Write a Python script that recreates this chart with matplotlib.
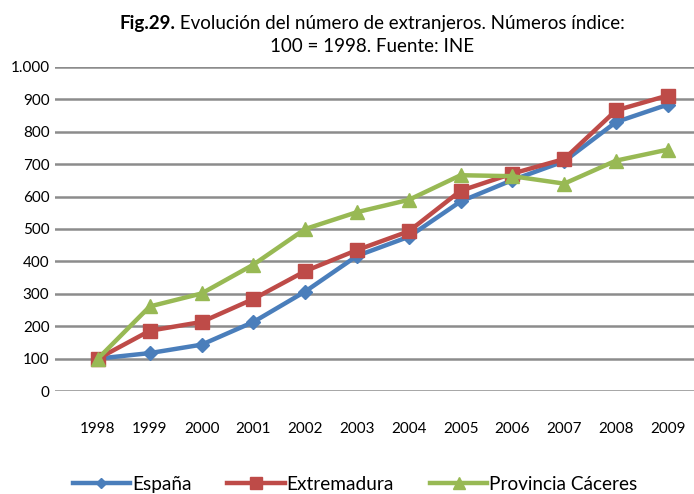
import matplotlib
matplotlib.use('Agg')
import matplotlib.pyplot as plt

plt.rcParams['font.family'] = ['Lato', 'DejaVu Sans']

years = ['1998', '1999', '2000', '2001', '2002', '2003', '2004', '2005', '2006', '2007', '2008', '2009']
espana = [100, 117, 143, 213, 307, 417, 476, 585, 651, 709, 830, 884]
extremadura = [100, 186, 213, 284, 370, 435, 493, 618, 671, 716, 866, 912]
caceres = [100, 261, 301, 390, 500, 552, 590, 666, 663, 640, 711, 745]
yticks = [0, 100, 200, 300, 400, 500, 600, 700, 800, 900, 1000]
ytick_labels = ['0', '100', '200', '300', '400', '500', '600', '700', '800', '900', '1.000']

BLUE = '#4A7EBB'
RED = '#BE4B48'
GREEN = '#98B954'
GRID = '#8C8C8C'

fig = plt.figure(figsize=(6.94, 4.94), dpi=100)
fig.patch.set_facecolor('white')
ax = fig.add_axes([55/694, (494-391)/494, 639/694, (391-67)/494])

x = list(range(len(years)))
ax.plot(x, espana, color=BLUE, lw=3.2, marker='D', ms=7, label='España', zorder=3)
ax.plot(x, extremadura, color=RED, lw=3.2, marker='s', ms=10, label='Extremadura', zorder=4)
ax.plot(x, caceres, color=GREEN, lw=3.2, marker='^', ms=10, label='Provincia Cáceres', zorder=5)

ax.set_ylim(0, 1000)
ax.set_xlim((55-98)/51.8, (694-98)/51.8)
ax.set_yticks(yticks)
ax.set_yticklabels(ytick_labels, fontsize=11)
ax.set_xticks(x)
ax.set_xticklabels(years, fontsize=11)
ax.tick_params(length=0)
ax.tick_params(axis='y', pad=4)
ax.tick_params(axis='x', pad=22)
ax.yaxis.grid(True, color=GRID, lw=1.8)
ax.set_axisbelow(True)
for s in ax.spines.values():
    s.set_visible(False)

# title: bold "Fig.29." followed by regular text
fig.canvas.draw()
r = fig.canvas.get_renderer()
t1 = fig.text(0, 0, 'Fig.29.', fontsize=13.5, fontweight='bold')
t2 = fig.text(0, 0, ' Evolución del número de extranjeros. Números índice:', fontsize=13.5)
w1 = t1.get_window_extent(r).width / 694
w2 = t2.get_window_extent(r).width / 694
x0 = 372/694 - (w1 + w2) / 2
yt = 1 - 23/494
t1.set_position((x0, yt)); t1.set_va('center')
t2.set_position((x0 + w1, yt)); t2.set_va('center')
fig.text(372/694, 1 - 46/494, '100 = 1998. Fuente: INE', fontsize=13.5, ha='center', va='center')

ax.legend(loc='center', bbox_to_anchor=(355/694, 1 - 484/494), bbox_transform=fig.transFigure,
          ncol=3, frameon=False, fontsize=13.7, handlelength=3.0, handletextpad=0.1,
          columnspacing=1.9, markerscale=0.8)

fig.savefig('out.png', dpi=100, facecolor='white')
